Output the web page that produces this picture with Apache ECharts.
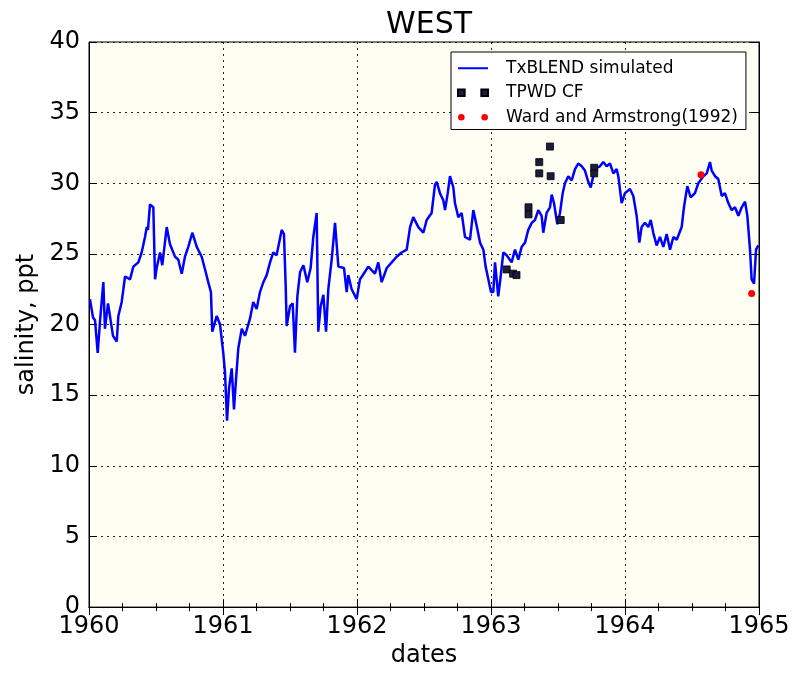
<!DOCTYPE html>
<html><head><meta charset="utf-8">
<script src="https://cdn.jsdelivr.net/npm/echarts@6/dist/echarts.min.js"></script>
<style>html,body{margin:0;padding:0;background:#fff}#c{width:793px;height:673px}</style>
</head><body><div id="c"></div>
<script>
// TxBLEND simulated (decimal year, salinity ppt)
const simDates = [1960.007,1960.030,1960.045,1960.065,1960.082,1960.107,1960.119,1960.142,1960.179,1960.207,1960.219,1960.244,1960.269,1960.306,1960.331,1960.368,1960.393,1960.418,1960.431,1960.440,1960.455,1960.480,1960.493,1960.505,1960.530,1960.547,1960.580,1960.604,1960.642,1960.666,1960.692,1960.716,1960.741,1960.771,1960.804,1960.841,1960.866,1960.890,1960.910,1960.920,1960.953,1960.978,1961.002,1961.015,1961.030,1961.045,1961.065,1961.082,1961.097,1961.114,1961.140,1961.164,1961.201,1961.226,1961.251,1961.276,1961.301,1961.326,1961.351,1961.375,1961.400,1961.438,1961.455,1961.468,1961.475,1961.500,1961.520,1961.537,1961.555,1961.575,1961.600,1961.629,1961.654,1961.674,1961.699,1961.711,1961.729,1961.749,1961.769,1961.786,1961.811,1961.836,1961.861,1961.903,1961.923,1961.935,1961.960,1961.998,1962.022,1962.037,1962.084,1962.134,1962.159,1962.184,1962.222,1962.259,1962.296,1962.333,1962.371,1962.396,1962.420,1962.458,1962.495,1962.520,1962.557,1962.582,1962.595,1962.619,1962.644,1962.657,1962.677,1962.694,1962.719,1962.731,1962.756,1962.781,1962.806,1962.843,1962.868,1962.893,1962.918,1962.943,1962.960,1962.980,1963.000,1963.017,1963.030,1963.054,1963.072,1963.092,1963.117,1963.154,1963.179,1963.204,1963.229,1963.254,1963.278,1963.304,1963.328,1963.353,1963.378,1963.390,1963.415,1963.440,1963.453,1963.470,1963.495,1963.515,1963.535,1963.552,1963.577,1963.602,1963.627,1963.651,1963.677,1963.701,1963.726,1963.744,1963.763,1963.789,1963.813,1963.838,1963.863,1963.888,1963.913,1963.938,1963.950,1963.975,1964.000,1964.037,1964.062,1964.087,1964.107,1964.124,1964.149,1964.174,1964.192,1964.211,1964.236,1964.261,1964.286,1964.311,1964.336,1964.361,1964.386,1964.423,1964.440,1964.465,1964.490,1964.522,1964.547,1964.585,1964.610,1964.634,1964.647,1964.672,1964.696,1964.722,1964.746,1964.771,1964.796,1964.821,1964.846,1964.871,1964.896,1964.913,1964.933,1964.945,1964.963,1964.978,1964.995];
const simValues = [21.8,20.5,20.3,18.0,20.2,23.0,19.7,21.5,19.2,18.8,20.6,21.6,23.4,23.2,24.1,24.4,25.1,26.2,26.9,26.7,28.5,28.3,23.2,24.0,25.1,24.2,26.9,25.7,24.8,24.6,23.6,24.8,25.5,26.5,25.5,24.8,23.9,23.0,22.3,19.5,20.6,20.0,18.0,16.6,13.2,15.5,16.9,14.0,16.1,18.3,19.7,19.2,20.4,21.6,21.1,22.3,23.0,23.5,24.4,25.1,24.9,26.7,26.4,22.7,19.9,21.3,21.5,18.0,22.0,23.7,24.2,23.0,24.0,26.2,27.9,19.5,21.3,22.1,19.5,22.5,24.6,27.2,24.1,24.0,22.3,23.5,22.5,21.8,23.2,23.4,24.1,23.6,24.4,23.0,24.0,24.4,24.8,25.1,25.3,26.9,27.6,26.9,26.5,27.4,27.9,29.9,30.1,29.3,28.8,28.1,29.3,30.5,29.7,28.6,27.6,27.9,26.2,26.0,28.1,27.0,25.8,25.3,24.1,23.2,22.3,22.3,24.4,22.0,23.4,25.1,24.9,24.4,25.3,24.6,25.5,25.8,26.7,27.2,27.4,28.1,27.7,26.5,27.9,28.3,29.2,28.6,27.1,27.9,29.3,30.0,30.5,30.2,31.0,31.4,31.2,30.9,30.1,29.7,30.5,31.1,31.2,31.5,31.2,31.4,30.7,31.0,30.5,28.6,29.3,29.6,29.1,27.7,25.8,26.9,27.2,26.9,27.4,26.5,25.6,26.2,25.5,26.4,25.3,26.2,26.0,26.9,28.3,29.8,29.0,29.3,30.0,30.5,30.7,31.5,30.9,30.5,30.3,29.1,29.3,28.6,28.1,28.3,27.7,28.3,28.7,27.7,25.3,23.2,22.9,25.3,25.6];
// TPWD CF observations
const tpwdDates = [1963.117,1963.165,1963.190,1963.280,1963.280,1963.360,1963.360,1963.440,1963.445,1963.520,1963.770,1963.770];
const tpwdValues = [23.9,23.6,23.5,28.3,27.8,31.5,30.7,32.6,30.5,27.4,31.1,30.7];
// Ward and Armstrong (1992)
const wardDates = [1964.567,1964.945];
const wardValues = [30.6,22.2];
// axes
const xMin = 1960, xMax = 1965, xStep = 1;
const yMin = 0, yMax = 40, yStep = 5;

const pair = (xs, ys) => xs.map((x, i) => [x, ys[i]]);
const FONT = 'DejaVu Sans';
const chart = echarts.init(document.getElementById('c'), null, {renderer: 'canvas'});
const gridLine = {show: true, lineStyle: {color: '#000', width: 1, type: [2, 4], opacity: 0.85}};
chart.setOption({
  backgroundColor: '#fff',
  animation: false,
  title: {text: 'WEST', left: 424, textAlign: 'center', top: 5, textStyle: {fontFamily: FONT, fontSize: 30, fontWeight: 'normal', color: '#000'}},
  grid: {left: 89, right: 34, top: 42, bottom: 64, show: true, backgroundColor: '#fefef3', borderColor: '#000', borderWidth: 1},
  legend: {
    left: 451, top: 52, orient: 'vertical', selectedMode: false,
    itemWidth: 30, itemHeight: 7, itemGap: 6,
    padding: [7, 8, 3, 6], borderColor: '#000', borderWidth: 1, backgroundColor: '#fff', borderRadius: 0,
    textStyle: {fontFamily: FONT, fontSize: 17, color: '#000', padding: [0, 0, 0, 13], lineHeight: 18.5},
    data: [
      {name: 'TxBLEND simulated', itemStyle: {opacity: 0}},
      {name: 'TPWD CF', icon: 'path://M0,0h4v4h-4z M14,0h4v4h-4z'},
      {name: 'Ward and Armstrong(1992)', icon: 'path://M0,2a2,2 0 1,0 4,0a2,2 0 1,0 -4,0z M14,2a2,2 0 1,0 4,0a2,2 0 1,0 -4,0z'}
    ]
  },
  xAxis: [{
    type: 'value', min: xMin, max: xMax, interval: xStep,
    name: 'dates', nameLocation: 'middle', nameGap: 36,
    nameTextStyle: {fontFamily: FONT, fontSize: 24, color: '#000'},
    axisLine: {show: true, lineStyle: {color: '#000', width: 1}},
    axisTick: {show: true, inside: true, length: 8, lineStyle: {color: '#000'}},
    minorTick: {show: true, splitNumber: 4, length: 4, lineStyle: {color: '#000'}},
    axisLabel: {fontFamily: FONT, fontSize: 24, color: '#000', margin: 8, showMinLabel: true, showMaxLabel: true, formatter: v => String(Math.round(v))},
    splitLine: gridLine
  }, {
    type: 'value', position: 'top', min: xMin, max: xMax, interval: xStep,
    axisLine: {show: true, lineStyle: {color: '#000', width: 1}},
    axisTick: {show: true, inside: true, length: 8, lineStyle: {color: '#000'}},
    minorTick: {show: true, splitNumber: 4, length: 4, lineStyle: {color: '#000'}},
    axisLabel: {show: false}, splitLine: {show: false}
  }],
  yAxis: [{
    type: 'value', min: yMin, max: yMax, interval: yStep,
    name: 'salinity, ppt', nameLocation: 'middle', nameGap: 45,
    nameTextStyle: {fontFamily: FONT, fontSize: 24, color: '#000'},
    axisLine: {show: true, lineStyle: {color: '#000', width: 1}},
    axisTick: {show: true, inside: true, length: 8, lineStyle: {color: '#000'}},
    axisLabel: {fontFamily: FONT, fontSize: 24, color: '#000', margin: 9},
    splitLine: gridLine
  }, {
    type: 'value', position: 'right', min: yMin, max: yMax, interval: yStep,
    axisLine: {show: true, lineStyle: {color: '#000', width: 1}},
    axisTick: {show: true, inside: true, length: 8, lineStyle: {color: '#000'}},
    axisLabel: {show: false}, splitLine: {show: false}
  }],
  series: [
    {name: 'TxBLEND simulated', type: 'line', symbol: 'none', data: pair(simDates, simValues),
     lineStyle: {color: '#0000ff', width: 2.5}, itemStyle: {color: '#0000ff'}, z: 2},
    {name: 'TPWD CF', type: 'scatter', symbol: 'rect', symbolSize: 7, data: pair(tpwdDates, tpwdValues),
     itemStyle: {color: '#1c1c3c', borderColor: '#000', borderWidth: 0.8, opacity: 1}, z: 3},
    {name: 'Ward and Armstrong(1992)', type: 'scatter', symbol: 'circle', symbolSize: 7, data: pair(wardDates, wardValues),
     itemStyle: {color: '#ff0000', opacity: 1}, z: 4}
  ]
});
</script>
</body></html>
